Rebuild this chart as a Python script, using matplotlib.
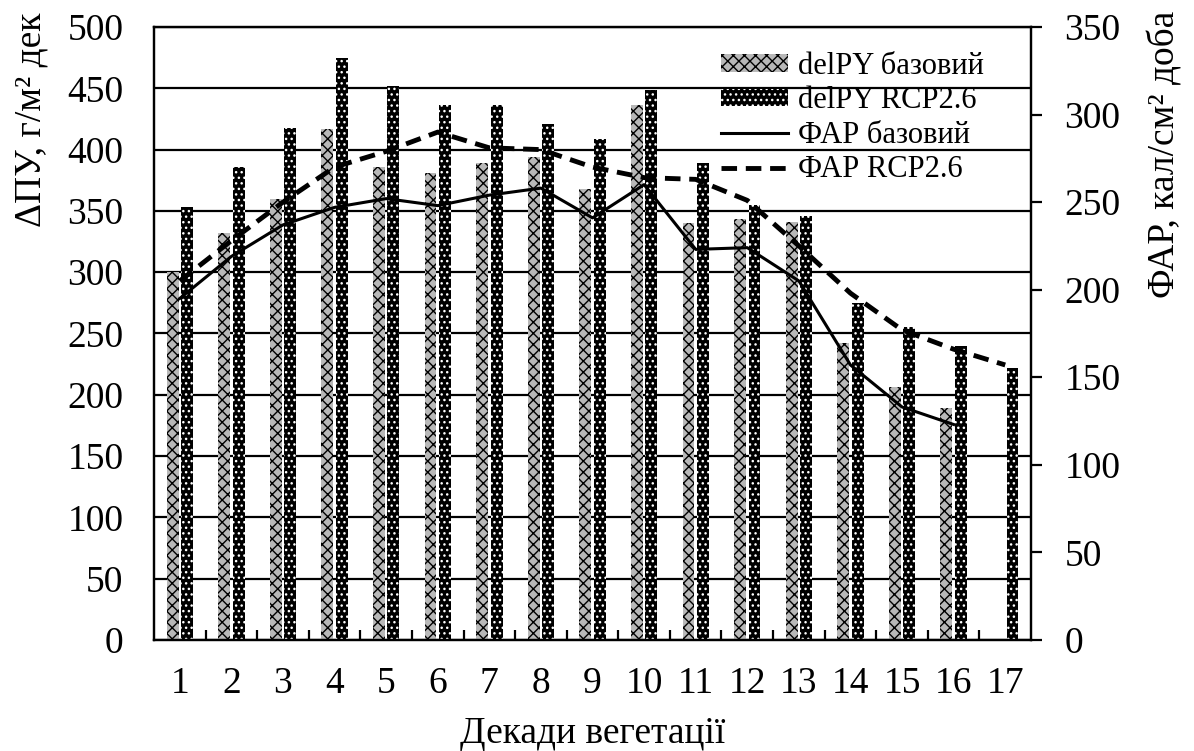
import matplotlib
matplotlib.use('Agg')
import matplotlib.pyplot as plt
import numpy as np

decades = list(range(1, 18))
delpy_base = [300, 332, 360, 417, 386, 381, 389, 394, 368, 436, 340, 343, 341, 242, 206, 189, np.nan]
delpy_rcp = [353, 386, 418, 475, 452, 436, 436, 421, 409, 449, 389, 355, 346, 275, 255, 240, 222]
far_base = [195, 219, 237, 247, 252, 248, 254, 258, 241, 260, 223, 224, 205, 157, 133, 123, np.nan]
far_rcp = [205, 228, 250, 270, 279, 290, 281, 280, 270, 264, 263, 251, 225, 198, 177, 166, 157]

plt.rcParams['font.family'] = ['Liberation Serif', 'DejaVu Serif']
plt.rcParams['hatch.linewidth'] = 1.0

FS = 27
fig = plt.figure(figsize=(11.94, 7.51), dpi=100)
ax = fig.add_axes([0.129, 0.148, 0.7345, 0.816])
x = np.array(decades, dtype=float)
w = 0.23
off = 0.14
ax.bar(x - off, delpy_base, w, facecolor='#b8b8b8', edgecolor='black',
       hatch='xxx', lw=0, label='delPY базовий', zorder=2)
ax.bar(x + off, delpy_rcp, w, facecolor='black', edgecolor='white',
       hatch='...', lw=0, label='delPY RCP2.6', zorder=2)

ax.set_xlim(0.5, 17.5)
ax.set_ylim(0, 500)
ax.set_yticks(np.arange(0, 501, 50))
ax.set_xticks(x)
ax.set_xticklabels([str(d) for d in decades])
ax.set_xticks(x[:-1] + 0.5, minor=True)
ax.set_axisbelow(True)
ax.yaxis.grid(True, color='black', lw=1.6)
ax.tick_params(axis='x', which='major', length=0, pad=19, labelsize=FS)
ax.tick_params(axis='x', which='minor', direction='in', length=7, width=1.6)
ax.tick_params(axis='y', length=0, pad=22, labelsize=FS)
for s in ['left', 'bottom', 'right', 'top']:
    ax.spines[s].set_linewidth(1.6)

ax2 = ax.twinx()
ax2.set_ylim(0, 350)
ax2.set_yticks(np.arange(0, 351, 50))
ax2.tick_params(axis='y', direction='out', length=8, width=1.6, pad=16, labelsize=FS)
for s in ['left', 'bottom', 'right', 'top']:
    ax2.spines[s].set_linewidth(1.6)
ax2.plot(x, far_base, color='black', lw=2.2, label='ФАР базовий', zorder=3)
ax2.plot(x, far_rcp, color='black', lw=3.5, dashes=(3.2, 1.8), label='ФАР RCP2.6', zorder=3)

h1, l1 = ax.get_legend_handles_labels()
h2, l2 = ax2.get_legend_handles_labels()
ax2.legend(h1 + h2, l1 + l2, loc='upper left', bbox_to_anchor=(0.604, 0.931),
           bbox_transform=fig.transFigure, frameon=False, fontsize=22,
           borderpad=0, borderaxespad=0, handletextpad=0.3, labelspacing=0.18,
           handlelength=2.2, handleheight=0.5)

fig.text(0.496, 0.0107, 'Декади вегетації', ha='center', va='baseline', fontsize=FS)
fig.text(0.026, 0.84, 'ΔПУ, г/м² дек', rotation=90, ha='center', va='center', fontsize=FS)
fig.text(0.9757, 0.794, 'ФАР, кал/см² доба', rotation=90, ha='center', va='center', fontsize=FS)

fig.savefig('out.png', dpi=100)
